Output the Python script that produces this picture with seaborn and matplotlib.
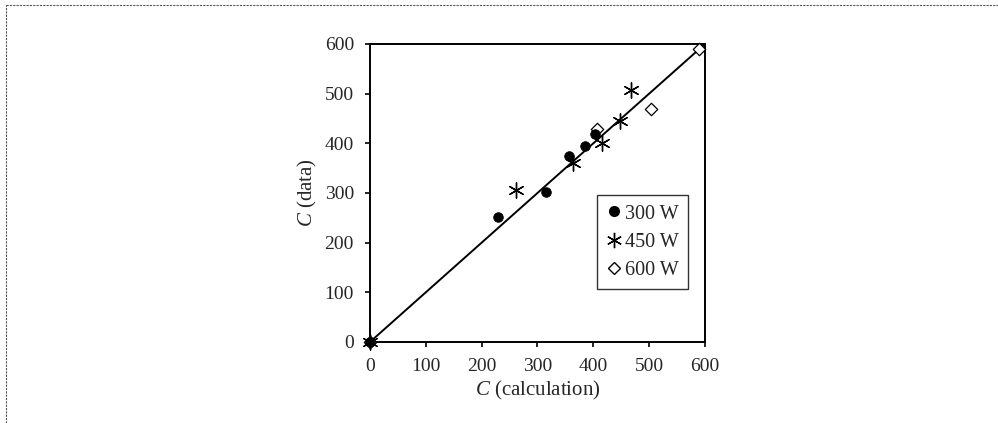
import matplotlib
matplotlib.use("Agg")
import matplotlib.pyplot as plt
import seaborn as sns
import pandas as pd
from matplotlib.lines import Line2D

# Data
x300 = [0, 229, 315, 357, 385, 403]
y300 = [0, 252, 303, 375, 394, 419]
x450 = [0, 262, 363, 415, 447, 468]
y450 = [0, 306, 360, 400, 444, 507]
x600 = [0, 406, 504, 590]
y600 = [0, 429, 470, 589]
line_x = [0, 600]
line_y = [0, 600]
ticks = [0, 100, 200, 300, 400, 500, 600]

sns.set_style("white")
plt.rcParams['font.family'] = ['Liberation Serif', 'DejaVu Serif']
plt.rcParams['mathtext.fontset'] = 'custom'
plt.rcParams['mathtext.it'] = 'Liberation Serif:italic'
plt.rcParams['mathtext.rm'] = 'Liberation Serif'

fig = plt.figure(figsize=(9.98, 4.23), dpi=100)
ax = fig.add_axes([0.3707, 0.1915, 0.3357, 0.7045])

sns.lineplot(x=line_x, y=line_y, ax=ax, color='black', lw=1.4, legend=False)
sns.scatterplot(x=x600, y=y600, ax=ax, marker='D', s=40, facecolor='white',
                edgecolor='black', linewidth=0.9, zorder=3, clip_on=False)
sns.scatterplot(x=x300, y=y300, ax=ax, marker='o', s=48, color='black',
                edgecolor='black', zorder=4, clip_on=False)
sns.scatterplot(x=x450, y=y450, ax=ax, marker=(6, 2, 0), s=120, color='black',
                linewidth=1.0, zorder=4, clip_on=False)

ax.set_xlim(0, 600)
ax.set_ylim(0, 600)
ax.set_xticks(ticks)
ax.set_yticks(ticks)
ax.tick_params(direction='out', length=3.5, width=1.2, color='black',
               labelsize=14, pad=8, bottom=True, left=True)
for s in ax.spines.values():
    s.set_color('black')
    s.set_linewidth(1.4)
ax.set_xlabel(r'$C$ (calculation)', fontsize=15, labelpad=3)
ax.set_ylabel(r'$C$ (data)', fontsize=15, labelpad=4)

handles = [
    Line2D([], [], marker='o', color='black', ls='none', markersize=7),
    Line2D([], [], marker=(6, 2, 0), color='black', ls='none', markersize=11, mew=1.0),
    Line2D([], [], marker='D', markerfacecolor='white', markeredgecolor='black',
           ls='none', markersize=6.5),
]
leg = ax.legend(handles, ['300 W', '450 W', '600 W'], loc='upper left',
                bbox_to_anchor=(0.678, 0.492), fontsize=14.5, frameon=True,
                fancybox=False, edgecolor='black', handlelength=0.8,
                handletextpad=0.15, borderpad=0.45, labelspacing=0.45,
                borderaxespad=0)
leg.get_frame().set_linewidth(1.0)

# page frame (dashed) at top and left
fig.add_artist(Line2D([0.006, 1.0], [0.988, 0.988], transform=fig.transFigure,
                      color='#555555', lw=0.8, ls=(0, (2, 1))))
fig.add_artist(Line2D([0.006, 0.006], [0.0, 0.988], transform=fig.transFigure,
                      color='#555555', lw=0.8, ls=(0, (2, 1))))

fig.savefig('out.png', dpi=100)
